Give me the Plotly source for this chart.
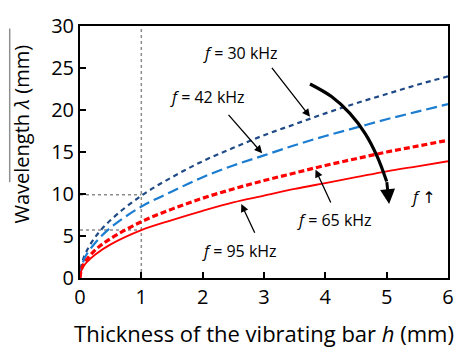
import plotly.graph_objects as go

h = [0, 0.02, 0.05, 0.1, 0.25, 0.5, 1, 1.5, 2, 2.5, 3, 3.5, 4, 4.5, 5, 5.5, 6]
lam_30 = [0, 1.4, 2.2, 3.1, 4.9, 6.9, 9.8, 12.0, 13.9, 15.5, 17.0, 18.3, 19.6, 20.8, 21.9, 23.0, 24.0]
lam_42 = [0, 1.2, 1.9, 2.7, 4.2, 6.0, 8.5, 10.3, 12.0, 13.4, 14.6, 15.8, 16.9, 17.9, 18.9, 19.8, 20.7]
lam_65 = [0, 0.95, 1.5, 2.1, 3.35, 4.7, 6.7, 8.2, 9.5, 10.6, 11.6, 12.5, 13.4, 14.2, 15.0, 15.7, 16.4]
lam_95 = [0, 0.8, 1.3, 1.8, 2.8, 4.0, 5.7, 6.9, 8.0, 9.0, 9.8, 10.6, 11.3, 12.0, 12.7, 13.3, 13.9]

# curved arrow path (data coords)
arc_x = [3.75, 4.1, 4.4, 4.65, 4.85, 5.0]
arc_y = [23.1, 21.6, 19.6, 17.2, 14.4, 11.5]

ref_30 = [9.9, 9.9]
ref_95 = [5.7, 5.7]

font = "Open Sans, DejaVu Sans, sans-serif"
GRAY = dict(color="#8c8c8c", width=1.5, dash="dot")

fig = go.Figure()
fig.add_trace(go.Scatter(x=[1, 1], y=[0, 30], mode="lines", line=GRAY, showlegend=False))
fig.add_trace(go.Scatter(x=[0, 1], y=ref_30, mode="lines", line=GRAY, showlegend=False))
fig.add_trace(go.Scatter(x=[0, 1], y=ref_95, mode="lines", line=GRAY, showlegend=False))

fig.add_trace(go.Scatter(x=h, y=lam_30, mode="lines", line_shape="spline",
                         line=dict(color="#1f4a86", width=2.2, dash="5px,4px"), showlegend=False))
fig.add_trace(go.Scatter(x=h, y=lam_42, mode="lines", line_shape="spline",
                         line=dict(color="#1b7dd2", width=2.2, dash="11px,5px"), showlegend=False))
fig.add_trace(go.Scatter(x=h, y=lam_65, mode="lines", line_shape="spline",
                         line=dict(color="#ff0000", width=3.2, dash="6px,3px"), showlegend=False))
fig.add_trace(go.Scatter(x=h, y=lam_95, mode="lines", line_shape="spline",
                         line=dict(color="#ff0000", width=1.8), showlegend=False))
fig.add_trace(go.Scatter(x=arc_x, y=arc_y, mode="lines", line_shape="spline",
                         line=dict(color="black", width=3.2), showlegend=False))

LF = dict(family=font, size=16, color="black")
ann = []
def arrow(x, y, ax, ay, w=1.3, s=1.2):
    ann.append(dict(x=x, y=y, ax=ax, ay=ay, axref="x", ayref="y", xref="x", yref="y",
                    showarrow=True, arrowhead=2, arrowsize=s, arrowwidth=w, arrowcolor="black", text=""))
def text(t, x, y, f=LF):
    ann.append(dict(x=x, y=y, xref="x", yref="y", showarrow=False, text=t, font=f))

arrow(3.75, 19.2, 3.11, 25.2)
text("<i>f</i> = 30 kHz", 2.62, 26.8)
arrow(2.97, 14.85, 2.4, 19.6)
text("<i>f</i> = 42 kHz", 2.08, 21.5)
arrow(3.84, 12.9, 4.1, 8.8)
text("<i>f</i> = 65 kHz", 4.15, 6.95)
arrow(2.63, 8.8, 2.86, 5.2)
text("<i>f</i> = 95 kHz", 2.6, 3.2)
arrow(5.04, 8.8, 5.0, 11.6, w=3, s=1.0)
text("<i>f</i> ↑", 5.6, 9.6)
ann.append(dict(x=-0.16, y=0.57, xref="paper", yref="paper", showarrow=False, textangle=-90,
                text="Wavelength <i>λ</i> (mm)", font=dict(family=font, size=20, color="black"),
                xanchor="center", yanchor="middle"))

fig.update_layout(
    width=466, height=355,
    margin=dict(l=80, r=15, t=15, b=75),
    plot_bgcolor="white", paper_bgcolor="white",
    annotations=ann,
    shapes=[dict(type="line", xref="paper", yref="paper", x0=-0.191, x1=-0.191, y0=0.99, y1=0.38,
                 line=dict(color="#909090", width=1.5))],
    xaxis=dict(range=[0, 6], tickvals=[0, 1, 2, 3, 4, 5, 6], ticks="inside", ticklen=6,
               tickwidth=1.5, tickcolor="black", showgrid=False, zeroline=False,
               showline=True, linecolor="black", linewidth=2, mirror=True,
               tickfont=dict(family=font, size=20, color="black"),
               title=dict(text="Thickness of the vibrating bar <i>h</i> (mm)",
                          font=dict(family=font, size=22, color="black"), standoff=18)),
    yaxis=dict(range=[0, 30], tickvals=[0, 5, 10, 15, 20, 25, 30], ticks="inside", ticklen=6,
               tickwidth=1.5, tickcolor="black", showgrid=False, zeroline=False,
               showline=True, linecolor="black", linewidth=2, mirror=True,
               tickfont=dict(family=font, size=20, color="black")),
)
fig.write_html("out.html")
